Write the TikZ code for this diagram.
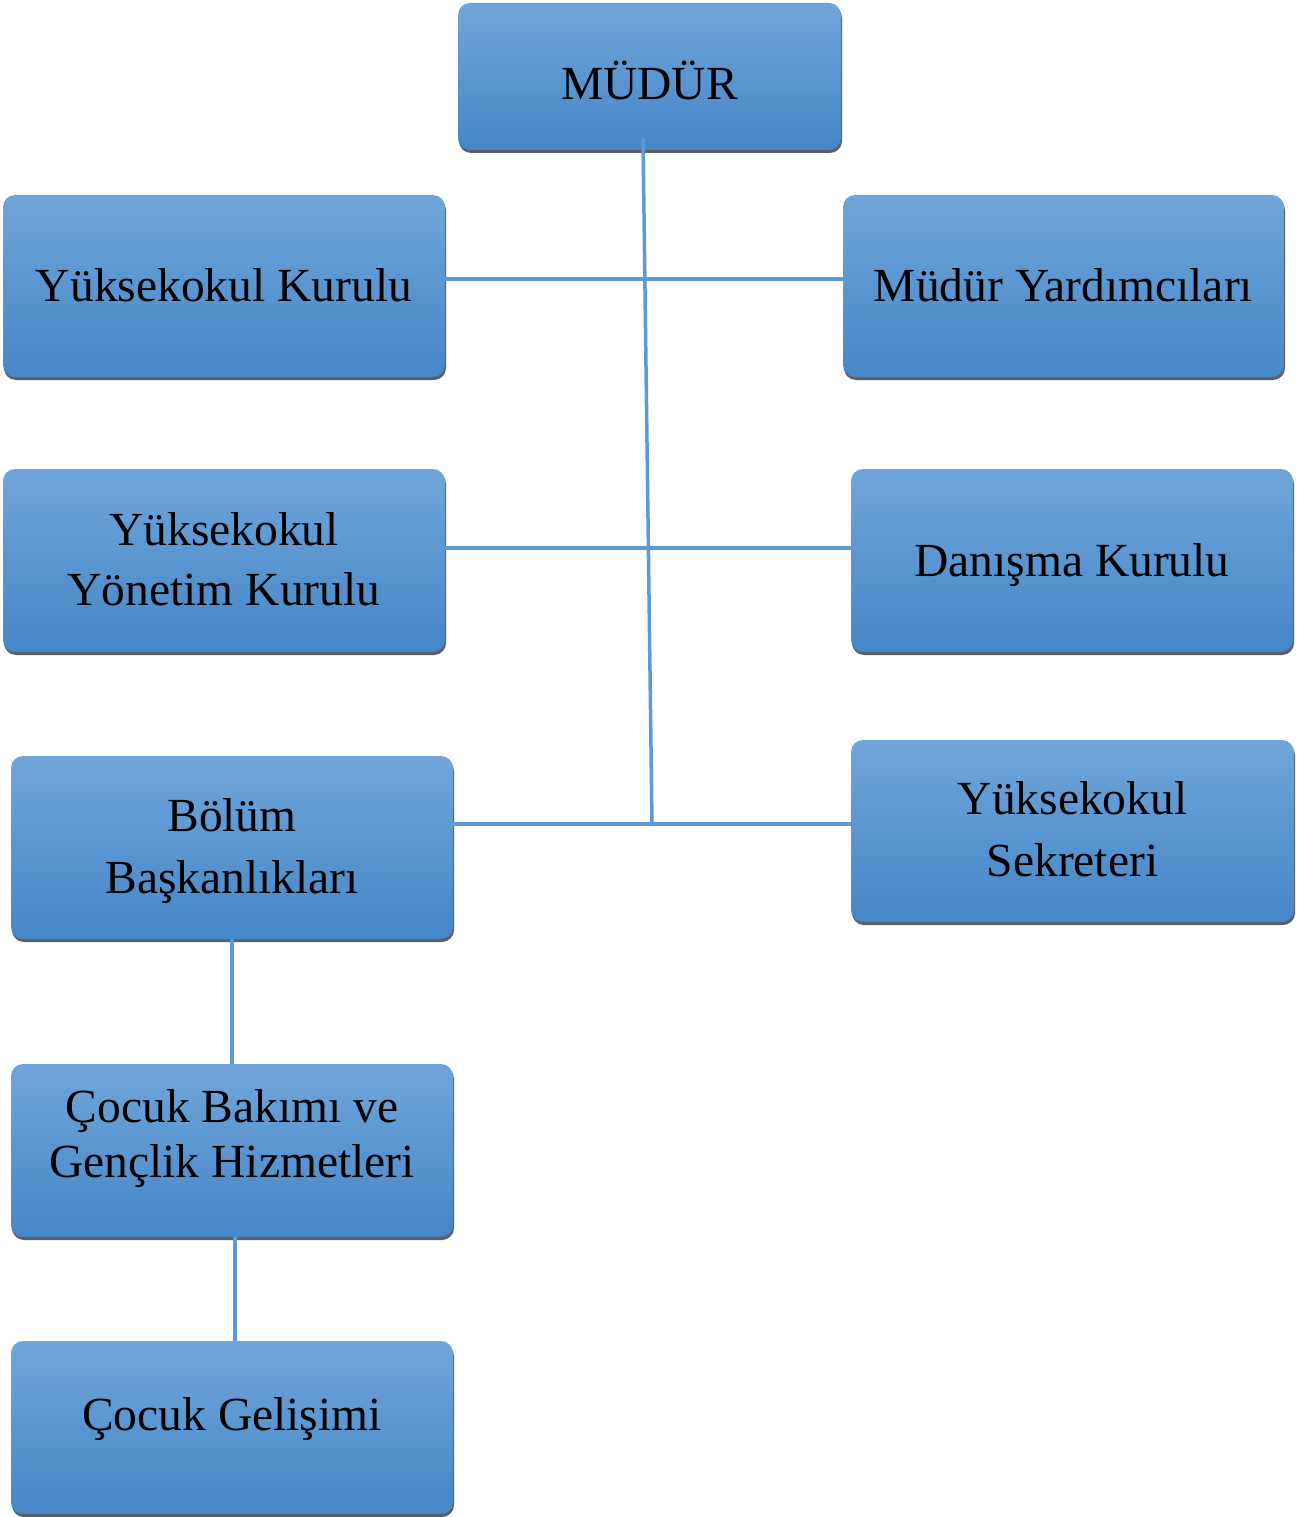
\documentclass[tikz,border=0pt]{standalone}
\usepackage{fontspec}
\setmainfont{Liberation Serif}
\usetikzlibrary{shadows}
\definecolor{boxtop}{HTML}{70A5DA}
\definecolor{boxbot}{HTML}{4487C8}
\definecolor{linkc}{HTML}{5B9BD5}
\definecolor{shadowc}{HTML}{5F5F5F}
% #1 raise of first baseline above box centre, #2 line spacing, #3 text
\newcommand{\orgtext}[3]{\raisebox{#1}[0pt][0pt]{\fontsize{47.5}{#2}\selectfont\begin{tabular}[t]{@{}c@{}}#3\end{tabular}}}
\tikzset{
  orgbox/.style={rectangle, rounded corners=12pt, inner sep=0pt, draw=none,
    top color=boxtop, bottom color=boxbot, align=center,
    drop shadow={shadow xshift=1pt, shadow yshift=-3pt, fill=shadowc, opacity=1}},
  link/.style={draw=linkc, line width=3.5pt}
}
\begin{document}
\begin{tikzpicture}[x=1pt,y=1pt]
\useasboundingbox (0,0) rectangle (1305,-1517);
\node[orgbox, minimum width=383pt, minimum height=147pt] (mudur) at (649.5,-76.5) {\orgtext{-23.5pt}{58pt}{MÜDÜR}};
\node[orgbox, minimum width=442pt, minimum height=182pt] (yk) at (224,-286) {\orgtext{-15.7pt}{58pt}{Yüksekokul Kurulu}};
\node[orgbox, minimum width=441pt, minimum height=182pt] (my) at (1063.5,-286) {\orgtext{-15pt}{58pt}{Müdür Yardımcıları}};
\node[orgbox, minimum width=442pt, minimum height=183pt] (yyk) at (224,-560.5) {\orgtext{15.5pt}{60pt}{Yüksekokul\\Yönetim Kurulu}};
\node[orgbox, minimum width=442pt, minimum height=183pt] (dk) at (1072,-560.5) {\orgtext{-15.5pt}{58pt}{Danışma Kurulu}};
\node[orgbox, minimum width=442pt, minimum height=183pt] (bb) at (232,-847.5) {\orgtext{15.8pt}{61.6pt}{Bölüm\\Başkanlıkları}};
\node[orgbox, minimum width=443pt, minimum height=182pt] (ys) at (1072.5,-831) {\orgtext{17pt}{62pt}{Yüksekokul\\Sekreteri}};
\node[orgbox, minimum width=442pt, minimum height=173pt] (cb) at (232,-1150.5) {\orgtext{28.5pt}{55pt}{Çocuk Bakımı ve\\Gençlik Hizmetleri}};
\node[orgbox, minimum width=442pt, minimum height=173pt] (cg) at (232,-1427.5) {\orgtext{-2.5pt}{58pt}{Çocuk Gelişimi}};
\coordinate (top) at (643,-138);
\coordinate (bot) at (652,-824);
\coordinate (h1) at (0,-279);
\coordinate (h2) at (0,-548);
\coordinate (h3) at (0,-824);
\draw[link] (top) -- (bot);
\draw[link] (yk.east |- h1) -- (my.west |- h1);
\draw[link] (yyk.east |- h2) -- (dk.west |- h2);
\draw[link] (bb.east |- h3) -- (ys.west |- h3);
\draw[link] (bb.south) -- (cb.north);
\draw[link] ([xshift=3pt]cb.south) -- ([xshift=3pt]cg.north);
\end{tikzpicture}
\end{document}
